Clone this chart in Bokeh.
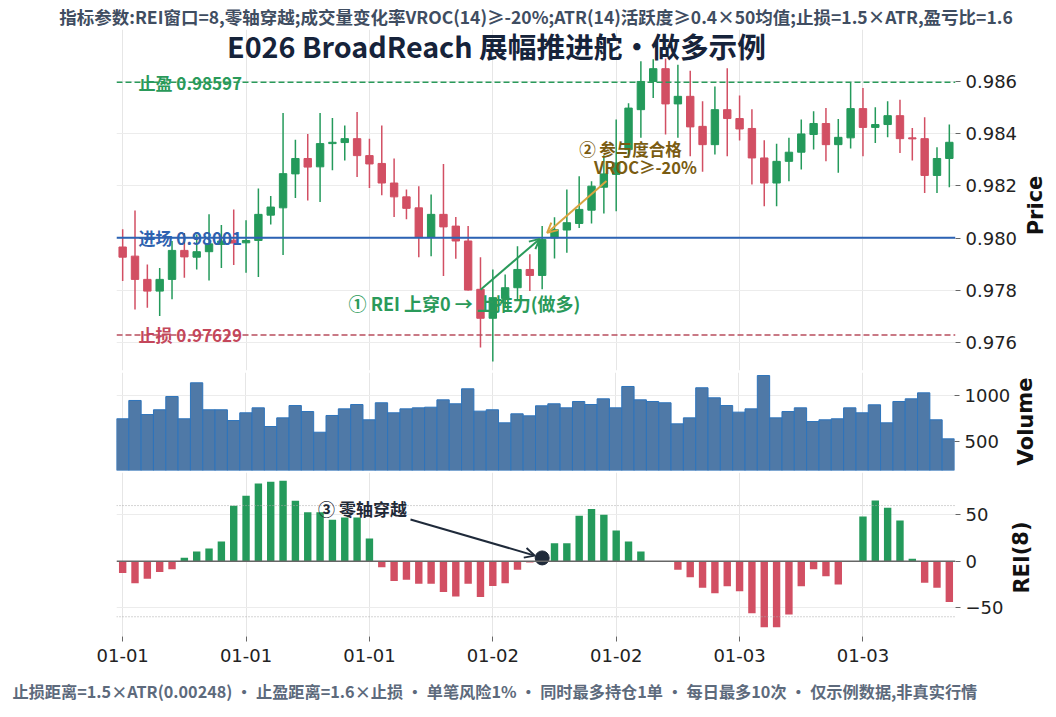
from bokeh.plotting import figure
from bokeh.layouts import column, row
from bokeh.models import (ColumnDataSource, Range1d, FixedTicker, Span, Label, Arrow,
                          OpenHead, Grid, LinearAxis, PrintfTickFormatter, Title, Spacer)
from bokeh.embed import file_html
from bokeh.resources import INLINE

# ---------------- data ----------------
opens = [0.97966, 0.97931, 0.97842, 0.97797, 0.97842, 0.97953, 0.97927, 0.97948, 0.97976, 0.97992,
         0.97982, 0.97991, 0.98088, 0.98116, 0.98246, 0.98305, 0.98273, 0.98362, 0.98366, 0.98381,
         0.98316, 0.98286, 0.98211, 0.98158, 0.98116, 0.98004, 0.98091, 0.98046, 0.97989, 0.97804,
         0.97693, 0.97769, 0.97810, 0.97880, 0.97857, 0.98001, 0.98031, 0.98056, 0.98107, 0.98195,
         0.98244, 0.98339, 0.98492, 0.98600, 0.98649, 0.98514, 0.98543, 0.98428, 0.98358, 0.98492,
         0.98458, 0.98420, 0.98307, 0.98211, 0.98294, 0.98329, 0.98397, 0.98439, 0.98358, 0.98384,
         0.98496, 0.98424, 0.98435, 0.98469, 0.98384, 0.98381, 0.98240, 0.98305]
highs = [0.98034, 0.98106, 0.97899, 0.97886, 0.97989, 0.98020, 0.98014, 0.98091, 0.98050, 0.98110,
         0.98068, 0.98190, 0.98161, 0.98479, 0.98377, 0.98399, 0.98479, 0.98460, 0.98431, 0.98483,
         0.98381, 0.98431, 0.98305, 0.98186, 0.98199, 0.98167, 0.98284, 0.98081, 0.98046, 0.97927,
         0.97880, 0.97861, 0.97969, 0.97938, 0.98046, 0.98080, 0.98186, 0.98237, 0.98218, 0.98317,
         0.98454, 0.98517, 0.98677, 0.98685, 0.98688, 0.98664, 0.98641, 0.98524, 0.98581, 0.98651,
         0.98546, 0.98494, 0.98375, 0.98361, 0.98384, 0.98454, 0.98486, 0.98498, 0.98456, 0.98594,
         0.98575, 0.98501, 0.98524, 0.98530, 0.98422, 0.98463, 0.98348, 0.98435]
lows = [0.97836, 0.97727, 0.97733, 0.97702, 0.97766, 0.97848, 0.97880, 0.97838, 0.97886, 0.97897,
        0.97867, 0.97851, 0.98052, 0.97935, 0.98154, 0.98144, 0.98138, 0.98260, 0.98297, 0.98234,
        0.98192, 0.98164, 0.98081, 0.98072, 0.97927, 0.97931, 0.97855, 0.97921, 0.97799, 0.97581,
        0.97527, 0.97733, 0.97766, 0.97797, 0.97804, 0.97922, 0.97944, 0.98039, 0.98056, 0.98094,
        0.98103, 0.98307, 0.98384, 0.98537, 0.98397, 0.98384, 0.98314, 0.98254, 0.98320, 0.98314,
        0.98374, 0.98205, 0.98122, 0.98122, 0.98218, 0.98263, 0.98339, 0.98294, 0.98250, 0.98343,
        0.98314, 0.98364, 0.98386, 0.98326, 0.98297, 0.98173, 0.98173, 0.98195]
closes = [0.97927, 0.97842, 0.97797, 0.97842, 0.97953, 0.97928, 0.97948, 0.97978, 0.97989, 0.97981,
          0.97991, 0.98091, 0.98119, 0.98247, 0.98305, 0.98272, 0.98362, 0.98367, 0.98381, 0.98316,
          0.98284, 0.98211, 0.98158, 0.98114, 0.98004, 0.98091, 0.98043, 0.97989, 0.97801, 0.97693,
          0.97772, 0.97810, 0.97880, 0.97857, 0.97995, 0.98033, 0.98059, 0.98110, 0.98199, 0.98246,
          0.98288, 0.98498, 0.98600, 0.98649, 0.98514, 0.98543, 0.98426, 0.98358, 0.98492, 0.98458,
          0.98418, 0.98307, 0.98211, 0.98294, 0.98329, 0.98399, 0.98439, 0.98358, 0.98386, 0.98496,
          0.98424, 0.98435, 0.98469, 0.98381, 0.98380, 0.98240, 0.98305, 0.98367]
volumes = [747, 946, 793, 845, 989, 747, 1138, 845, 845, 728, 812, 866, 663, 757, 891, 826, 601,
           783, 855, 902, 736, 921, 812, 855, 866, 873, 953, 910, 1073, 830, 845, 703, 801, 779,
           888, 910, 866, 935, 902, 964, 866, 1098, 953, 935, 921, 692, 757, 1084, 975, 891, 819,
           855, 1217, 757, 826, 866, 717, 736, 747, 866, 812, 899, 703, 935, 964, 1029, 736, 529]
rei = [-12.9, -23.7, -19.0, -11.8, -8.6, 3.6, 10.4, 13.7, 21.2, 59.9, 70.6, 83.9, 85.7, 86.8,
       65.3, 52.7, 52.7, 44.8, 47.0, 47.0, 24.4, -6.5, -21.5, -20.0, -24.3, -24.3, -33.3, -38.0,
       -24.3, -38.7, -26.9, -23.7, -9.3, -1.4, 3.5, 19.4, 19.4, 49.1, 56.3, 50.2, 33.0, 21.2,
       10.4, 0.0, 0.0, -9.3, -17.3, -28.7, -34.5, -27.0, -32.4, -56.1, -71.2, -71.2, -57.5, -27.0,
       -8.6, -16.2, -25.1, 0.0, 48.2, 65.5, 57.6, 43.9, 2.6, -23.3, -28.7, -44.2]
tick_idx = [0, 10, 20, 30, 40, 50, 60]
tick_labels = ["01-01", "01-01", "01-01", "01-02", "01-02", "01-03", "01-03"]
price_ticks = [0.976, 0.978, 0.980, 0.982, 0.984, 0.986]
vol_ticks = [500, 1000]
rei_ticks = [-50, 0, 50]
rei_band = 60
entry_price = 0.98001
stop_price = 0.97629
take_price = 0.98597
signal_idx = 34

subtitle = "指标参数:REI窗口=8,零轴穿越;成交量变化率VROC(14)≥-20%;ATR(14)活跃度≥0.4×50均值;止损=1.5×ATR,盈亏比=1.6"
title = "E026 BroadReach 展幅推进舵・做多示例"
footer = "止损距离=1.5×ATR(0.00248) • 止盈距离=1.6×止损 • 单笔风险1% • 同时最多持仓1单 • 每日最多10次 • 仅示例数据,非真实行情"

# ---------------- styles / layout ----------------
GREEN = "#249a5b"
RED = "#d24f63"
CJK = "Noto Sans CJK SC"
TICKF = "DejaVu Sans"
PAGE_W = 1056
BL, FW = 116, 839
FRAME_R = BL + FW
n = len(opens)
P_TOP_PX, P_BOT_PX = 28, 370
P_LO, P_HI = 0.97493, 0.98799
V_LO, V_HI = 185, 1250
R_TOP_PX, R_BOT_PX = 472, 636
R_LO, R_HI = -81.3, 95.7
H1, H2, H3 = 371, 100, 245


def px_x(px):
    return -0.5 + (px - BL) / FW * n


def px_price(py):
    return P_HI - (py - P_TOP_PX) / (P_BOT_PX - P_TOP_PX) * (P_HI - P_LO)


def px_rei(py):
    return R_HI - (py - R_TOP_PX) / (R_BOT_PX - R_TOP_PX) * (R_HI - R_LO)


x_range = Range1d(-0.5, n - 0.5)
xs = list(range(n))


def base(width, height, yr, top, bottom, ticks, fmt=None):
    p = figure(width=width, height=height, x_range=x_range, y_range=yr,
               x_axis_location=None, y_axis_location=None,
               output_backend="svg", toolbar_location=None,
               min_border_left=BL, min_border_right=width - FRAME_R,
               min_border_top=top, min_border_bottom=bottom)
    p.outline_line_color = None
    p.background_fill_color = "white"
    p.border_fill_color = "white"
    p.center = [r for r in p.center if not isinstance(r, Grid)]
    p.add_layout(Grid(dimension=0, ticker=FixedTicker(ticks=tick_idx),
                      grid_line_color="#e6e6e6", grid_line_width=1))
    p.add_layout(Grid(dimension=1, ticker=FixedTicker(ticks=ticks),
                      grid_line_color="#ececec", grid_line_width=1))
    ax = LinearAxis(ticker=FixedTicker(ticks=ticks))
    if fmt is not None:
        ax.formatter = fmt
    ax.axis_line_color = None
    ax.major_tick_out = 5
    ax.major_tick_in = 0
    ax.minor_tick_line_color = None
    ax.major_tick_line_color = "#666666"
    ax.major_label_standoff = 5
    ax.major_label_text_font = TICKF
    ax.major_label_text_font_size = "18px"
    ax.major_label_text_color = "#222222"
    p.add_layout(ax, "right")
    return p, ax


def side(width, height, text, cx):
    """small strip right of a panel, its rotated axis title drawn at its vertical centre"""
    s = figure(width=width, height=height, title=None,
               x_range=Range1d(0, width), y_range=Range1d(-1, 1),
               x_axis_location=None, y_axis_location=None, output_backend="svg",
               toolbar_location=None, min_border=0,
               min_border_left=0, min_border_right=0, min_border_top=0, min_border_bottom=0)
    s.outline_line_color = None
    s.grid.visible = False
    s.background_fill_color = "white"
    s.border_fill_color = "white"
    s.add_layout(Label(x=cx, y=0, text=text, angle=1.5708,
                       text_align="center", text_baseline="middle", text_font=TICKF,
                       text_font_style="bold", text_font_size="21px", text_color="#111111"))
    return s


# ---------------- price panel ----------------
W1 = 1020
p1, ax1 = base(W1, H1, Range1d(P_LO, P_HI), P_TOP_PX, 1, price_ticks,
               PrintfTickFormatter(format="%.3f"))
p1.title.text = subtitle
p1.title.align = "center"
p1.title.text_font = CJK
p1.title.text_font_style = "bold"
p1.title.text_font_size = "17.5px"
p1.title.text_color = "#3f4d61"
p1.title.standoff = 2

colors = [GREEN if c >= o else RED for o, c in zip(opens, closes)]
src = ColumnDataSource(dict(x=xs, h=highs, l=lows,
                            top=[max(o, c) for o, c in zip(opens, closes)],
                            bot=[min(o, c) for o, c in zip(opens, closes)],
                            color=colors, vol=volumes, rei=rei,
                            rcol=[GREEN if v >= 0 else RED for v in rei]))
p1.segment("x", "h", "x", "l", source=src, line_color="color", line_width=1.5)
p1.vbar(x="x", width=0.6, top="top", bottom="bot", source=src,
        fill_color="color", line_color="color", line_width=1)

p1.add_layout(Span(location=take_price, dimension="width", line_color="#2a9a5a",
                   line_dash="6 3", line_width=1.5))
p1.add_layout(Span(location=entry_price, dimension="width", line_color="#2c63b5",
                   line_width=2))
p1.add_layout(Span(location=stop_price, dimension="width", line_color="#b84e5e",
                   line_dash="6 3", line_width=1.5))

for txt, yv, col in [(f"止盈 {take_price:.5f}", take_price, "#2a9a5a"),
                     (f"进场 {entry_price:.5f}", entry_price, "#2e62b0"),
                     (f"止损 {stop_price:.5f}", stop_price, "#c4475b")]:
    p1.add_layout(Label(x=px_x(138), y=yv, text=txt, text_align="left",
                        text_baseline="middle", text_font=CJK, text_font_style="bold",
                        text_font_size="17px", text_color=col))

# annotation 1
p1.add_layout(Arrow(end=OpenHead(size=10, line_color="#2a9a5a", line_width=2),
                    x_start=px_x(480), y_start=px_price(289),
                    x_end=signal_idx - 0.2, y_end=entry_price - 0.00004,
                    line_color="#2a9a5a", line_width=2))
p1.add_layout(Label(x=px_x(464), y=px_price(302), text="① REI 上穿0 → 上推力(做多)",
                    text_align="center", text_baseline="middle", text_font=CJK,
                    text_font_style="bold", text_font_size="18px", text_color="#2a9a5a"))
# annotation 2
p1.add_layout(Arrow(end=OpenHead(size=10, line_color="#d9a441", line_width=2),
                    x_start=px_x(606), y_start=px_price(180),
                    x_end=signal_idx + 0.4, y_end=entry_price + 0.00019,
                    line_color="#d9a441", line_width=2))
p1.add_layout(Label(x=px_x(630), y=px_price(148), text="② 参与度合格",
                    text_align="center", text_baseline="middle", text_font=CJK,
                    text_font_style="bold", text_font_size="16.5px", text_color="#7a5c12"))
p1.add_layout(Label(x=px_x(645), y=px_price(166), text="VROC≥-20%",
                    text_align="center", text_baseline="middle", text_font=CJK,
                    text_font_style="bold", text_font_size="16.5px", text_color="#7a5c12"))

# main title (overlaps top of the price frame)
p1.add_layout(Label(x=px_x(496), y=px_price(44), text=title, text_align="center",
                    text_baseline="middle", text_font=CJK, text_font_style="bold",
                    text_font_size="28.7px", text_color="#16233a"))

# ---------------- volume panel ----------------
W2 = 1013
p2, ax2 = base(W2, H2, Range1d(V_LO, V_HI), 1, 1, vol_ticks)
p2.vbar(x="x", width=1.0, top="vol", bottom=V_LO, source=src,
        fill_color="#4f79a7", line_color="#2e74bb", line_width=1)

# ---------------- REI panel ----------------
W3 = 1007
p3, ax3 = base(W3, H3, Range1d(R_LO, R_HI), 1, H3 - 1 - (R_BOT_PX - R_TOP_PX), rei_ticks)
ax3.major_label_overrides = {-50: "\u221250"}
xax = LinearAxis(ticker=FixedTicker(ticks=tick_idx),
                 major_label_overrides={t: s for t, s in zip(tick_idx, tick_labels)})
xax.axis_line_color = None
xax.major_tick_out = 5
xax.major_tick_in = 0
xax.minor_tick_line_color = None
xax.major_tick_line_color = "#666666"
xax.major_label_standoff = 7
xax.major_label_text_font = TICKF
xax.major_label_text_font_size = "18px"
xax.major_label_text_color = "#222222"
p3.add_layout(xax, "below")

p3.vbar(x="x", width=0.6, top="rei", bottom=0, source=src, fill_color="rcol", line_color=None)
p3.add_layout(Span(location=0, dimension="width", line_color="#666666", line_width=1.5))
p3.add_layout(Span(location=rei_band, dimension="width", line_color="#aaaaaa",
                   line_dash="1 2", line_width=1))
p3.add_layout(Span(location=-rei_band, dimension="width", line_color="#aaaaaa",
                   line_dash="1 2", line_width=1))
p3.scatter([signal_idx], [rei[signal_idx]], size=14, fill_color="#1f2a3a", line_color="#1f2a3a")
p3.add_layout(Arrow(end=OpenHead(size=10, line_color="#1f2a3a", line_width=2),
                    x_start=px_x(410), y_start=px_rei(519),
                    x_end=signal_idx - 0.6, y_end=rei[signal_idx] + 2.5,
                    line_color="#1f2a3a", line_width=2))
p3.add_layout(Label(x=px_x(362), y=px_rei(508), text="③ 零轴穿越", text_align="center",
                    text_baseline="middle", text_font=CJK, text_font_style="bold",
                    text_font_size="17px", text_color="#1f2937"))
p3.add_layout(Title(text=footer, align="left", offset=12 - BL, text_font=CJK,
                    text_font_style="bold", text_font_size="16.2px", text_color="#5d6a7c",
                    standoff=24), "below")

# axis titles: strips centred on the reference label positions (page y 205, 421, 557)
SW1, SW2, SW3 = PAGE_W - W1, PAGE_W - W2, PAGE_W - W3
lab1 = side(SW1, 80, "Price", 1035 - W1)
lab2 = side(SW2, H2, "Volume", 1025 - W2)
lab3 = side(SW3, 80, "REI(8)", 1021 - W3)
col1 = column(Spacer(width=SW1, height=205 - 40), lab1, spacing=0)
col3 = column(Spacer(width=SW3, height=557 - 40 - (H1 + H2)), lab3, spacing=0)

layout = column(row(p1, col1, spacing=0), row(p2, lab2, spacing=0), row(p3, col3, spacing=0),
                spacing=0)
open("out.html", "w").write(file_html(layout, INLINE))
